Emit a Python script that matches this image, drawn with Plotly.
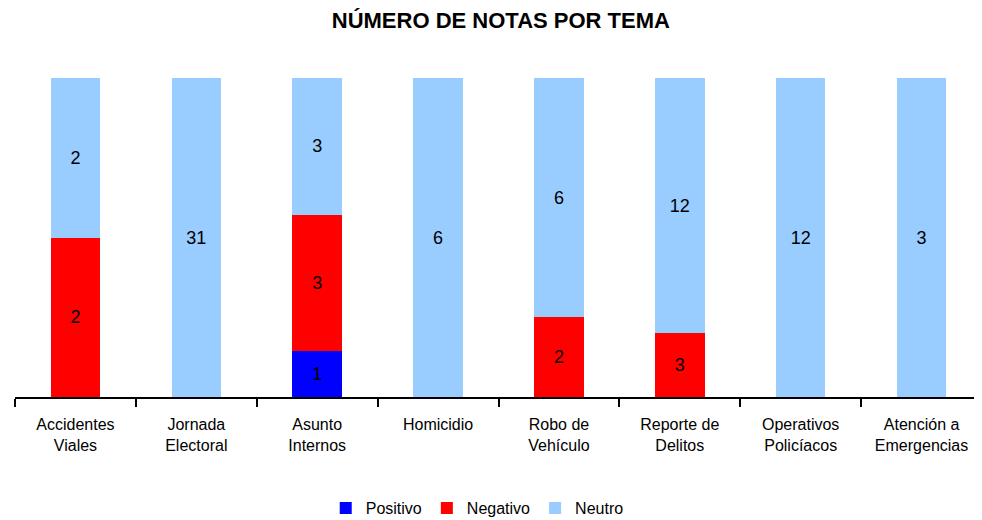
import plotly.graph_objects as go

temas = ['Accidentes<br>Viales', 'Jornada<br>Electoral', 'Asunto<br>Internos', 'Homicidio',
         'Robo de<br>Vehículo', 'Reporte de<br>Delitos', 'Operativos<br>Policíacos', 'Atención a<br>Emergencias']
positivo = [0, 0, 1, 0, 0, 0, 0, 0]
negativo = [2, 0, 3, 0, 2, 3, 0, 0]
neutro = [2, 31, 3, 6, 6, 12, 12, 3]

series = [
    ('Positivo', positivo, '#0000FF'),
    ('Negativo', negativo, '#FF0000'),
    ('Neutro', neutro, '#99CCFF'),
]

fig = go.Figure()
for name, vals, color in series:
    fig.add_trace(go.Bar(
        name=name, x=temas, y=vals,
        marker=dict(color=color, line=dict(width=0)),
        text=[str(v) if v else '' for v in vals],
        textposition='inside', insidetextanchor='middle',
        textfont=dict(size=18, color='black'),
        hoverinfo='name+y',
    ))

# page body has an 8px margin, so the figure is a bit smaller than the window
fig.update_layout(
    barmode='stack', barnorm='percent', bargap=0.59,
    width=974, height=512,
    margin=dict(l=7, r=0, t=70, b=123, autoexpand=False),
    paper_bgcolor='white', plot_bgcolor='white',
    font=dict(family='Liberation Sans, Arial, sans-serif', color='black'),
    title=dict(text='<b>NÚMERO DE NOTAS POR TEMA</b>', x=0.506, xanchor='center',
               y=0.9766, yanchor='middle', font=dict(size=22)),
    legend=dict(orientation='h', x=0.478, xanchor='center', y=-0.348, yanchor='middle',
                font=dict(size=16), traceorder='normal', itemwidth=30),
    uniformtext=dict(minsize=10, mode='show'),
)
fig.update_xaxes(showline=True, linecolor='black', linewidth=1.5, ticks='outside',
                 tickson='boundaries', ticklen=8, tickcolor='black', tickwidth=1.5,
                 tickfont=dict(size=16), ticklabelstandoff=12, showgrid=False,
                 automargin=False)
fig.update_yaxes(visible=False, range=[0, 100], showgrid=False, automargin=False)

fig.write_html('out.html')
